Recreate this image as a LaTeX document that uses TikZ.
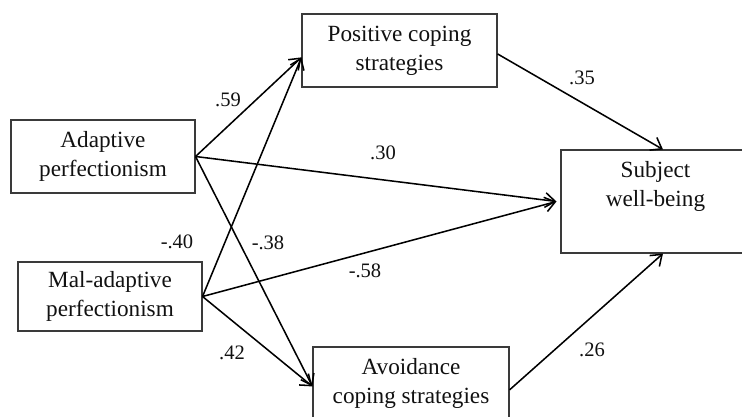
\documentclass[tikz,border=0pt]{standalone}
\usepackage{fontspec}
\setmainfont{Liberation Serif}
\usetikzlibrary{arrows.meta}
\definecolor{pBoxEdge}{HTML}{3A3A3A}
\definecolor{pInk}{HTML}{111111}

\begin{document}
\begin{tikzpicture}[
  x=0.75pt, y=-0.75pt,
  varbox/.style={rectangle, draw=pBoxEdge, line width=.8pt, fill=white,
    align=center, inner sep=0pt, text=pInk,
    font=\fontsize{17.4}{21.8}\selectfont},
  boxtext/.style={align=center, inner sep=0pt, text=pInk,
    font=\fontsize{17.4}{21.8}\selectfont},
  path/.style={draw=black, line width=1.15pt,
    -{Straight Barb[length=7.5pt, width=11pt, line width=1.15pt]}},
  coef/.style={inner sep=0pt, text=pInk, font=\fontsize{15.4}{18}\selectfont},
]
\useasboundingbox (0,0) rectangle (742,417);
\clip (0,0) rectangle (742,417);

% ---- predictors ----------------------------------------------------------
\node[varbox, minimum width=138pt, minimum height=54.75pt] (adapt)
  at (103,156.5) {Adaptive\\perfectionism};
\node[varbox, minimum width=138pt, minimum height=51.75pt] (maladapt)
  at (110,296.5) {Mal-adaptive\\perfectionism};

% ---- mediators -----------------------------------------------------------
\node[varbox, minimum width=146.25pt, minimum height=54.75pt] (positive)
  at (399.5,50.5) {Positive coping\\strategies};
\node[varbox, minimum width=147pt, minimum height=54pt] (avoid)
  at (411,383) {Avoidance\\coping strategies};

% ---- outcome (runs off the right edge, text in the upper part) -----------
\node[varbox, minimum width=156.75pt, minimum height=77.25pt] (subject)
  at (665.5,201.5) {};
\node[boxtext] (subjtxt) at (655.5,186.5) {Subject\\well-being};

% ---- paths ---------------------------------------------------------------
\draw[path] (adapt.east) -- (positive.184);
\draw[path] (adapt.east) -- ([xshift=-3pt]subject.west);
\draw[path] (adapt.east) -- (avoid.182);
\draw[path] (maladapt.east) -- (positive.184);
\draw[path] (maladapt.east) -- ([xshift=-3pt]subject.west);
\draw[path] (maladapt.east) -- (avoid.182);
\draw[path] (positive.358) -- ([xshift=-1.9pt]subject.north);
\draw[path] (avoid.356) -- ([xshift=-1.9pt]subject.south);

% ---- coefficients --------------------------------------------------------
\node[coef] (c59) at (228,100) {.59};
\node[coef] (c30) at (383,153) {.30};
\node[coef] (c35) at (582,78)  {.35};
\node[coef] (c40) at (177,242) {-.40};
\node[coef] (c38) at (268,243) {-.38};
\node[coef] (c58) at (365,271) {-.58};
\node[coef] (c42) at (232,353) {.42};
\node[coef] (c26) at (592,350) {.26};
\end{tikzpicture}
\end{document}
